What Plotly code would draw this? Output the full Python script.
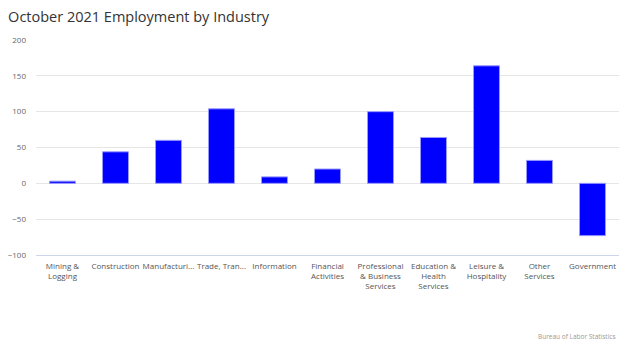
import plotly.graph_objects as go

categories = ["Mining &<br>Logging", "Construction", "Manufacturi...", "Trade, Tran...",
              "Information", "Financial<br>Activities", "Professional<br>& Business<br>Services",
              "Education &<br>Health<br>Services", "Leisure &<br>Hospitality",
              "Other<br>Services", "Government"]
values = [3, 44, 60, 104, 9, 20, 100, 64, 164, 32, -73]
y_ticks = [-100, -50, 0, 50, 100, 150, 200]

fig = go.Figure()
fig.add_trace(go.Bar(
    x=categories, y=values,
    marker=dict(color="#0000FF", line=dict(color="#9999ff", width=1)),
    width=0.49,
))

font_family = "Open Sans, Lato, sans-serif"
fig.update_layout(
    width=624, height=343,
    margin=dict(l=36, r=5, t=40, b=88),
    paper_bgcolor="white", plot_bgcolor="white",
    showlegend=False,
    font=dict(family=font_family, color="#666666", size=8),
    title=dict(text="October 2021 Employment by Industry", x=0.013, xanchor="left",
               y=0.965, yanchor="top",
               font=dict(family=font_family, size=14.5, color="#333333")),
    xaxis=dict(showgrid=False, showline=True, linecolor="#ccd6eb", linewidth=1,
               ticks="", tickangle=0, ticklabelstandoff=3,
               tickfont=dict(size=8, color="#555555")),
    yaxis=dict(range=[-100, 200], tickvals=y_ticks, showgrid=True, gridcolor="#e6e6e6",
               zeroline=False, showline=False, ticks="", ticklabelstandoff=9,
               tickfont=dict(size=8, color="#666666")),
    annotations=[dict(text="Bureau of Labor Statistics", xref="paper", yref="paper",
                      x=0.998, y=-0.38, xanchor="right", yanchor="middle", showarrow=False,
                      font=dict(size=6.5, color="#999999"))],
)

fig.write_html("out.html")
